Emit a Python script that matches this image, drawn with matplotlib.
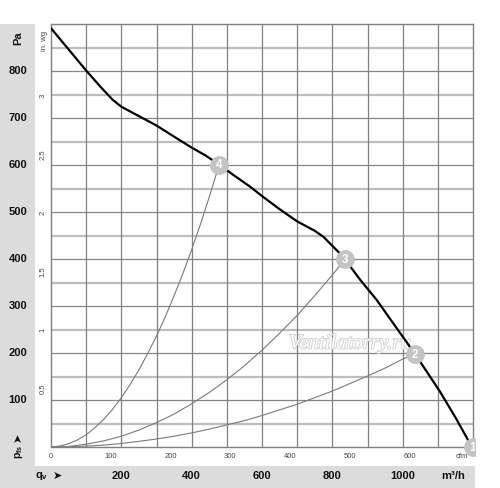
import matplotlib
matplotlib.use("Agg")
import matplotlib.pyplot as plt
from matplotlib.patches import Rectangle
from matplotlib.transforms import blended_transform_factory, Bbox, TransformedBbox
import matplotlib.patheffects as pe

# ---- data ----
fan_q = [0, 50, 100, 140, 175, 200, 245, 300, 357, 400, 440, 478, 520, 566, 600, 650,
         700, 750, 775, 800, 820, 836, 880, 926, 980, 1035, 1106, 1150, 1197]
fan_p = [891, 846, 801, 767, 739, 724, 706, 684, 657, 637, 620, 601, 578, 554, 534, 506,
         480, 460, 447, 428, 413, 399, 355, 313, 256, 198, 118, 63, 0]

sys4_q = [0, 25, 50, 75, 100, 125, 150, 175, 200, 225, 250, 275, 300, 325, 350, 375, 400, 425, 450, 478]
sys4_p = [0, 2, 7, 15, 26, 41, 59, 80, 105, 133, 164, 199, 236, 277, 322, 369, 420, 474, 532, 600]
sys3_q = [0, 50, 100, 150, 200, 250, 300, 350, 400, 450, 500, 550, 600, 650, 700, 750, 800, 836]
sys3_p = [0, 1, 6, 13, 23, 36, 52, 70, 92, 116, 143, 173, 206, 242, 280, 322, 366, 399]
sys2_q = [0, 50, 100, 150, 200, 250, 300, 350, 400, 450, 500, 550, 600, 650, 700, 750,
          800, 850, 900, 950, 1000, 1035]
sys2_p = [0, 0.5, 2, 4, 7.5, 12, 17, 23, 30, 38, 47, 56, 67, 79, 91, 105,
          119, 135, 151, 168, 187, 198]

op_labels = ["1", "2", "3", "4"]
op_q = [1200, 1035, 836, 478]
op_p = [0, 198, 399, 601]

pa_ticks = [100, 200, 300, 400, 500, 600, 700, 800]
m3h_ticks = [200, 400, 600, 800, 1000]
cfm_ticks = [0, 100, 200, 300, 400, 500, 600]
inwg_ticks = ["0.5", "1", "1.5", "2", "2.5", "3"]

CFM_TO_M3H = 1.699
INWG_TO_PA = 249.09

# ---- figure ----
W, H = 500, 488
fig = plt.figure(figsize=(5.0, 4.88), dpi=100)
fig.patch.set_facecolor("white")

def fx(px):
    return px / W

def fy(py):
    return (H - py) / H

ax = fig.add_axes([fx(51), fy(447), fx(473) - fx(51), fy(24) - fy(447)])
ax.set_xlim(0, 1200)
ax.set_ylim(0, 900)
ax.set_xticks([])
ax.set_yticks([])
for s in ax.spines.values():
    s.set_color("#808080")
    s.set_linewidth(1.0)

# grey panels
panel_col = "#dcdcdc"
fig.patches.append(Rectangle((0, 0), fx(35), fy(24), transform=fig.transFigure,
                             facecolor=panel_col, edgecolor="none", zorder=0))
fig.patches.append(Rectangle((0, 0), fx(475), fy(466), transform=fig.transFigure,
                             facecolor=panel_col, edgecolor="none", zorder=0))

# grid
for p in range(50, 900, 100):
    ax.axhline(p, color="#bdbdbd", lw=1.6, zorder=1)
for p in range(100, 900, 100):
    ax.axhline(p, color="#858585", lw=0.9, zorder=1)
for v in range(100, 1200, 100):
    ax.axvline(v, color="#808080", lw=0.9, zorder=1)

# watermark
ax.text(850, 219, "Ventilatorry.ru", fontsize=15, style="italic", family="Liberation Serif",
        color="white", ha="center", va="center", zorder=2,
        path_effects=[pe.withStroke(linewidth=1.2, foreground="#cfcfcf")])

# system curves
for q, p in [(sys4_q, sys4_p), (sys3_q, sys3_p), (sys2_q, sys2_p)]:
    ax.plot(q, p, color="#7a7a7a", lw=0.8, zorder=3, solid_joinstyle="round")

# fan curve
ax.plot(fan_q, fan_p, color="black", lw=1.6, zorder=4, solid_joinstyle="round",
        solid_capstyle="round")

# operating points (clipped at the right edge of the chart like the original)
clipbox = TransformedBbox(Bbox([[0, 0], [fx(475), 1]]), fig.transFigure)
for lab, q, p in zip(op_labels, op_q, op_p):
    ln, = ax.plot([q], [p], "o", ms=12.5, color="#c4c4c4", mec="#c4c4c4", zorder=5)
    ln.set_clip_box(clipbox)
    t = ax.text(q, p - 2, lab, color="white", fontsize=8.5, fontweight="bold", ha="center",
                va="center", family="Liberation Sans", zorder=6)
    t.set_clip_box(clipbox)
    t.set_clip_on(True)

# left panel texts
tr_y = blended_transform_factory(fig.transFigure, ax.transData)
for p in pa_ticks:
    fig.text(fx(18), p, str(p), transform=tr_y, fontsize=8, fontweight="bold",
             family="Liberation Sans", ha="center", va="center", color="#111111")
fig.text(fx(18), fy(38), "Pa", fontsize=8, fontweight="bold", family="Liberation Sans",
         rotation=90, ha="center", va="center", color="#111111")
fig.text(fx(19), fy(452), "p$_{\\mathregular{fs}}$", fontsize=7.5, fontweight="bold",
         family="Liberation Sans", rotation=90, ha="center", va="center", color="#111111")
fig.text(fx(18), fy(437), "\u27a4", fontsize=8, family="DejaVu Sans", rotation=90,
         ha="center", va="center", color="#111111")

# in. wg
for t in inwg_ticks:
    fig.text(fx(43), float(t) * INWG_TO_PA, t, transform=tr_y, fontsize=5.5,
             family="Liberation Sans", rotation=90, ha="center", va="center", color="#444444")
fig.text(fx(44), fy(41), "in. wg", fontsize=5.5, family="Liberation Sans", rotation=90,
         ha="center", va="center", color="#444444")

# cfm
tr_x = blended_transform_factory(ax.transData, fig.transFigure)
for c in cfm_ticks:
    fig.text(c * CFM_TO_M3H, fy(456), str(c), transform=tr_x, fontsize=5.5,
             family="Liberation Sans", ha="center", va="center", color="#444444")
fig.text(fx(462), fy(456), "cfm", fontsize=5.5, family="Liberation Sans",
         ha="center", va="center", color="#444444")

# bottom panel
for m in m3h_ticks:
    fig.text(m, fy(476), str(m), transform=tr_x, fontsize=8, fontweight="bold",
             family="Liberation Sans", ha="center", va="center", color="#111111")
fig.text(fx(35), fy(476), "q$_{\\mathregular{v}}$", fontsize=8, fontweight="bold",
         family="Liberation Sans", ha="left", va="center", color="#111111")
fig.text(fx(57), fy(476), "\u27a4", fontsize=8, family="DejaVu Sans",
         ha="center", va="center", color="#111111")
fig.text(fx(453), fy(476), "m\u00b3/h", fontsize=8, fontweight="bold",
         family="Liberation Sans", ha="center", va="center", color="#111111")

fig.savefig("out.png", dpi=100, facecolor="white")
